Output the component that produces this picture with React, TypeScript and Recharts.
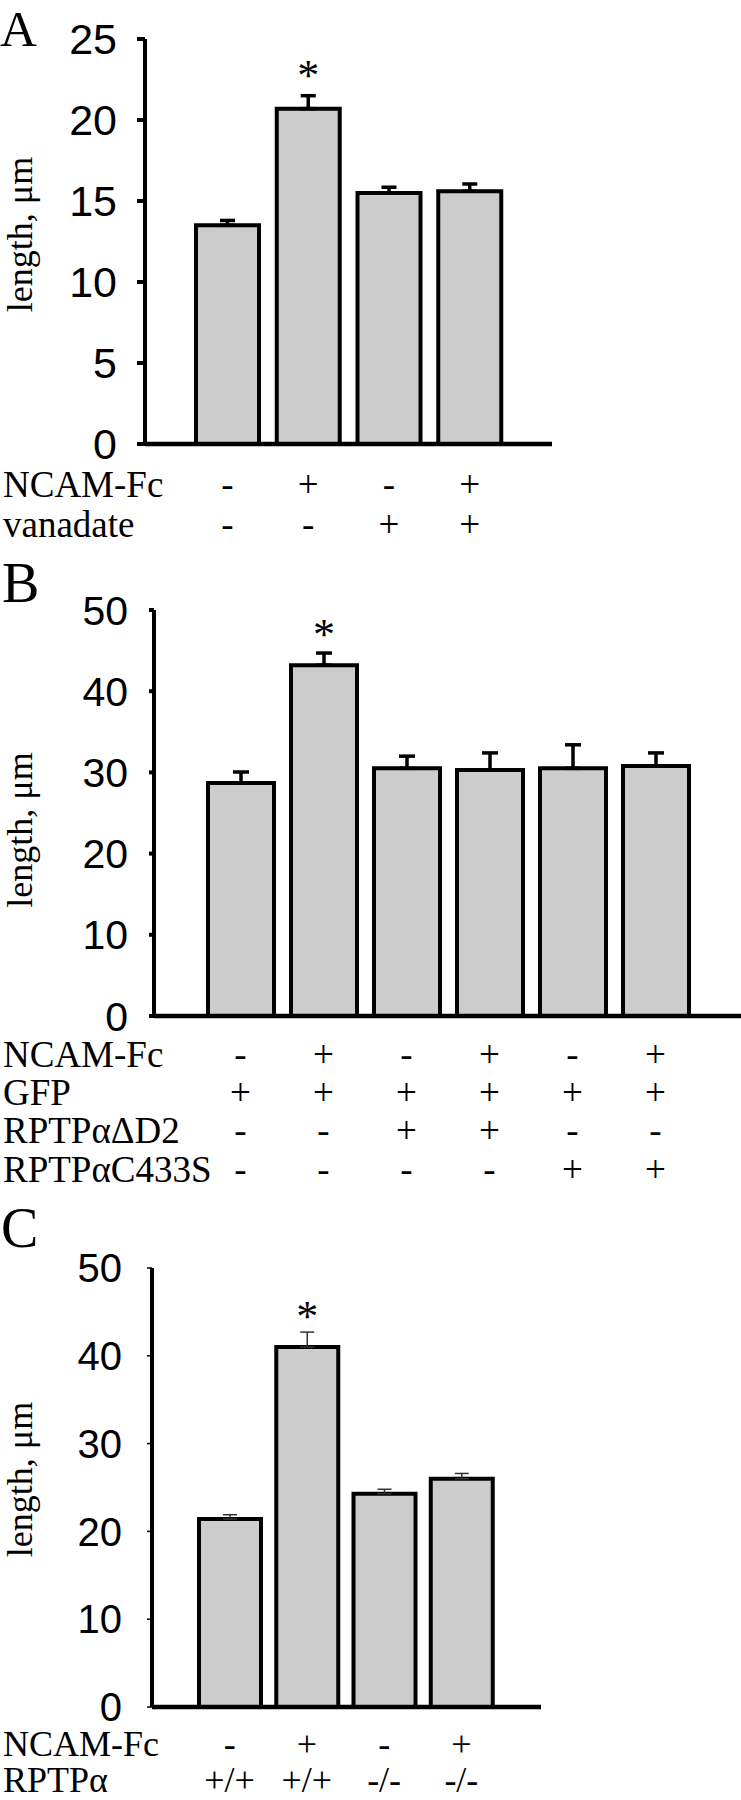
import React from 'react';
import { BarChart, Bar, XAxis, YAxis, ErrorBar, LabelList } from 'recharts';

const SERIF = '"Liberation Serif", "Times New Roman", Times, serif';
const SANS = '"Liberation Sans", Arial, Helvetica, sans-serif';

// ---------- Panel A ----------
const aCategories = ['control', 'NCAM-Fc', 'vanadate', 'NCAM-Fc + vanadate'];
const aMeans = [13.5, 20.7, 15.5, 15.6];
const aErrors = [0.3, 0.8, 0.35, 0.45];
const aSignificance = ['', '*', '', ''];
const aRowNames = ['NCAM-Fc', 'vanadate'];
const aNcamFc = ['-', '+', '-', '+'];
const aVanadate = ['-', '-', '+', '+'];
const aTicks = [0, 5, 10, 15, 20, 25];

// ---------- Panel B ----------
const bCategories = ['GFP', 'GFP + NCAM-Fc', 'ΔD2', 'ΔD2 + NCAM-Fc', 'C433S', 'C433S + NCAM-Fc'];
const bMeans = [28.7, 43.2, 30.5, 30.3, 30.5, 30.8];
const bErrors = [1.35, 1.5, 1.5, 2.1, 2.9, 1.6];
const bSignificance = ['', '*', '', '', '', ''];
const bRowNames = ['NCAM-Fc', 'GFP', 'RPTPαΔD2', 'RPTPαC433S'];
const bNcamFc = ['-', '+', '-', '+', '-', '+'];
const bGfp = ['+', '+', '+', '+', '+', '+'];
const bDeltaD2 = ['-', '-', '+', '+', '-', '-'];
const bC433S = ['-', '-', '-', '-', '+', '+'];
const bTicks = [0, 10, 20, 30, 40, 50];

// ---------- Panel C ----------
const cCategories = ['+/+', '+/+ NCAM-Fc', '-/-', '-/- NCAM-Fc'];
const cMeans = [21.4, 41.0, 24.3, 26.0];
const cErrors = [0.5, 1.7, 0.5, 0.6];
const cSignificance = ['', '*', '', ''];
const cRowNames = ['NCAM-Fc', 'RPTPα'];
const cNcamFc = ['-', '+', '-', '+'];
const cRptpa = ['+/+', '+/+', '-/-', '-/-'];
const cTicks = [0, 10, 20, 30, 40, 50];

type PanelProps = {
  top: number;
  height: number;
  marginTop: number;
  marginRight: number;
  yAxisWidth: number;
  xAxisHeight: number;
  padLeft: number;
  padRight: number;
  barSize: number;
  categories: string[];
  means: number[];
  errors: number[];
  sig: string[];
  rowNames: string[];
  rows: string[][];
  rowOffsets: number[];
  rowFont: number;
  yMax: number;
  yTicks: number[];
  tickFont: number;
  tickSize: number;
  tickMargin: number;
  tickStroke: number;
  axisStroke: number;
  xAxisStroke: number;
  errStroke: string;
  errWidth: number;
  errCap: number;
  labelX: number;
  labelDy: number;
  starGap: number;
};

function Panel(p: PanelProps) {
  const data = p.categories.map((c, i) => ({
    name: c,
    value: p.means[i],
    err: [0, p.errors[i]],
    sig: p.sig[i],
  }));

  const renderTick = (props: any) => {
    const { x, y, payload } = props;
    const i = payload && typeof payload.index === 'number' ? payload.index : props.index;
    return (
      <g>
        {p.rows.map((row, r) => (
          <text
            key={'s' + r}
            x={x}
            y={y + p.rowOffsets[r]}
            textAnchor="middle"
            fontFamily={SERIF}
            fontSize={p.rowFont}
            fill="#000"
          >
            {row[i]}
          </text>
        ))}
        {i === 0 &&
          p.rowNames.map((n, r) => (
            <text
              key={'n' + r}
              x={3}
              y={y + p.rowOffsets[r]}
              textAnchor="start"
              fontFamily={SERIF}
              fontSize={p.rowFont}
              fill="#000"
            >
              {n}
            </text>
          ))}
      </g>
    );
  };

  const renderYLabel = (props: any) => {
    const vb = props.viewBox || {};
    const cy = Number(vb.y) + Number(vb.height) / 2 + p.labelDy;
    return (
      <text
        x={p.labelX}
        y={cy}
        transform={`rotate(-90, ${p.labelX}, ${cy})`}
        textAnchor="middle"
        fontFamily={SERIF}
        fontSize={36}
        fill="#000"
      >
        length, μm
      </text>
    );
  };

  const renderStar = (props: any) => {
    const v = props.value;
    if (!v) return null;
    const vb = props.viewBox && props.viewBox.width !== undefined ? props.viewBox : props;
    const bx = Number(vb.x);
    const by = Number(vb.y);
    const bw = Number(vb.width);
    const bh = Number(vb.height);
    const idx = props.index;
    let errTop = by - 6;
    if (typeof idx === 'number' && p.means[idx]) {
      errTop = by - (p.errors[idx] * bh) / p.means[idx];
    }
    return (
      <text
        x={bx + bw / 2}
        y={errTop - p.starGap}
        textAnchor="middle"
        fontFamily={SERIF}
        fontSize={44}
        fill="#000"
      >
        {v}
      </text>
    );
  };

  return (
    <div style={{ position: 'absolute', left: 0, top: p.top, width: 741, height: p.height }}>
      <BarChart
        width={741}
        height={p.height}
        data={data}
        margin={{ top: p.marginTop, right: p.marginRight, bottom: 0, left: 0 }}
      >
        <XAxis
          dataKey="name"
          type="category"
          height={p.xAxisHeight}
          padding={{ left: p.padLeft, right: p.padRight }}
          axisLine={{ stroke: '#000', strokeWidth: p.xAxisStroke }}
          tickLine={false}
          tickSize={0}
          tickMargin={0}
          interval={0}
          tick={renderTick}
        />
        <YAxis
          type="number"
          domain={[0, p.yMax]}
          ticks={p.yTicks}
          interval={0}
          width={p.yAxisWidth}
          axisLine={{ stroke: '#000', strokeWidth: p.axisStroke }}
          tickLine={{ stroke: '#000', strokeWidth: p.tickStroke }}
          tickSize={p.tickSize}
          tickMargin={p.tickMargin}
          tick={{ fontFamily: SANS, fontSize: p.tickFont, fill: '#000' }}
          label={renderYLabel}
        />
        <Bar
          dataKey="value"
          fill="#cccccc"
          stroke="#000"
          strokeWidth={4}
          barSize={p.barSize}
          isAnimationActive={false}
        >
          <ErrorBar
            dataKey="err"
            width={p.errCap}
            stroke={p.errStroke}
            strokeWidth={p.errWidth}
            isAnimationActive={false}
          />
          <LabelList dataKey="sig" content={renderStar} />
        </Bar>
      </BarChart>
    </div>
  );
}

export default function App() {
  return (
    <div
      style={{
        position: 'absolute',
        left: 0,
        top: 0,
        width: 741,
        height: 1800,
        background: '#fff',
        overflow: 'hidden',
      }}
    >
      <Panel
        top={0}
        height={560}
        marginTop={39}
        marginRight={189}
        yAxisWidth={145}
        xAxisHeight={116}
        padLeft={42}
        padRight={42}
        barSize={63}
        categories={aCategories}
        means={aMeans}
        errors={aErrors}
        sig={aSignificance}
        rowNames={aRowNames}
        rows={[aNcamFc, aVanadate]}
        rowOffsets={[53, 93]}
        rowFont={37}
        yMax={25}
        yTicks={aTicks}
        tickFont={43}
        tickSize={8}
        tickMargin={20}
        tickStroke={4}
        axisStroke={4}
        xAxisStroke={4.5}
        errStroke="#000"
        errWidth={3.5}
        errCap={7.5}
        labelX={32}
        labelDy={-7}
        starGap={6}
      />
      <Panel
        top={560}
        height={640}
        marginTop={50}
        marginRight={0}
        yAxisWidth={154}
        xAxisHeight={184}
        padLeft={45}
        padRight={44}
        barSize={66}
        categories={bCategories}
        means={bMeans}
        errors={bErrors}
        sig={bSignificance}
        rowNames={bRowNames}
        rows={[bNcamFc, bGfp, bDeltaD2, bC433S]}
        rowOffsets={[51, 89, 127, 166]}
        rowFont={37}
        yMax={50}
        yTicks={bTicks}
        tickFont={41}
        tickSize={5}
        tickMargin={21}
        tickStroke={4}
        axisStroke={4}
        xAxisStroke={4.5}
        errStroke="#000"
        errWidth={3.5}
        errCap={8}
        labelX={32}
        labelDy={17}
        starGap={4}
      />
      <Panel
        top={1200}
        height={600}
        marginTop={68}
        marginRight={200}
        yAxisWidth={152}
        xAxisHeight={93}
        padLeft={39}
        padRight={41}
        barSize={62}
        categories={cCategories}
        means={cMeans}
        errors={cErrors}
        sig={cSignificance}
        rowNames={cRowNames}
        rows={[cNcamFc, cRptpa]}
        rowOffsets={[49, 85]}
        rowFont={36}
        yMax={50}
        yTicks={cTicks}
        tickFont={40}
        tickSize={5}
        tickMargin={25}
        tickStroke={1.5}
        axisStroke={4}
        xAxisStroke={4.5}
        errStroke="#333"
        errWidth={1.5}
        errCap={7}
        labelX={32}
        labelDy={-8}
        starGap={1}
      />
      <svg
        width={741}
        height={1800}
        style={{ position: 'absolute', left: 0, top: 0, pointerEvents: 'none' }}
      >
        <text x={0} y={46} fontFamily={SERIF} fontSize={51} fill="#000">
          A
        </text>
        <text x={2} y={602} fontFamily={SERIF} fontSize={56} fill="#000">
          B
        </text>
        <text x={1} y={1247} fontFamily={SERIF} fontSize={56} fill="#000">
          C
        </text>
      </svg>
    </div>
  );
}
